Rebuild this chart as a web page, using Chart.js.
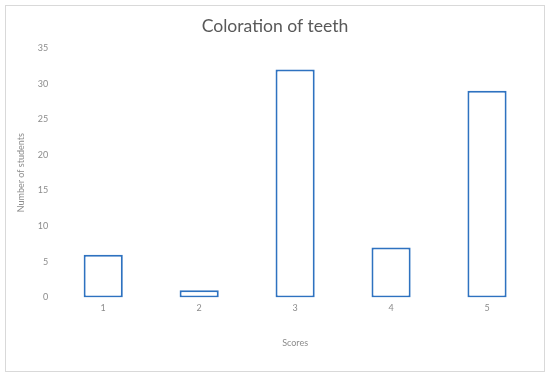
<!DOCTYPE html>
<html>
<head>
<meta charset="utf-8">
<script src="https://cdn.jsdelivr.net/npm/chart.js@4"></script>
<style>
  html, body { margin: 0; padding: 0; background: #fff; }
  .frame {
    position: absolute; left: 5px; top: 5px;
    width: 538px; height: 365px;
    border: 1px solid #d9d9d9;
  }
  .titulo {
    position: absolute; left: 0; top: 9px; width: 538px;
    text-align: center; color: #595959;
    font: 17.6px Lato, 'Open Sans', sans-serif;
  }
  canvas { display: block; }
</style>
</head>
<body>
<div class="frame">
  <canvas id="cBar" width="538" height="365"></canvas>
  <div class="titulo">Coloration of teeth</div>
</div>
<script>
// dados
const scores   = ["1", "2", "3", "4", "5"];
const students = [6, 1, 32, 7, 29];

const corTick = "#8c8c8c";
const fonte = "Lato, 'Open Sans', sans-serif";

new Chart(document.getElementById("cBar"), {
  type: "bar",
  data: {
    labels: scores,
    datasets: [{
      label: "Number of students",
      data: students,
      backgroundColor: "#ffffff",
      borderColor: "#2e72c0",
      borderWidth: 2,
      borderSkipped: false,
      categoryPercentage: 0.77,
      barPercentage: 0.53
    }]
  },
  options: {
    responsive: false,
    animation: false,
    layout: { padding: { left: 6, right: 9, top: 42, bottom: 19 } },
    plugins: {
      legend: { display: false },
      tooltip: { enabled: false },
      title: { display: false }
    },
    scales: {
      x: {
        grid: { display: false, drawTicks: false },
        border: { display: false },
        ticks: { color: corTick, font: { family: fonte, size: 9 }, padding: 5 },
        title: {
          display: true, text: "Scores", color: corTick,
          font: { family: fonte, size: 9 }, padding: { top: 19 }
        }
      },
      y: {
        min: 0, max: 35,
        grid: { display: false, drawTicks: false },
        border: { display: false },
        ticks: { stepSize: 5, color: corTick, font: { family: fonte, size: 9 }, padding: 7 },
        title: {
          display: true, text: "Number of students", color: corTick,
          font: { family: fonte, size: 9 }, padding: { bottom: 4 }
        }
      }
    }
  }
});
</script>
</body>
</html>
